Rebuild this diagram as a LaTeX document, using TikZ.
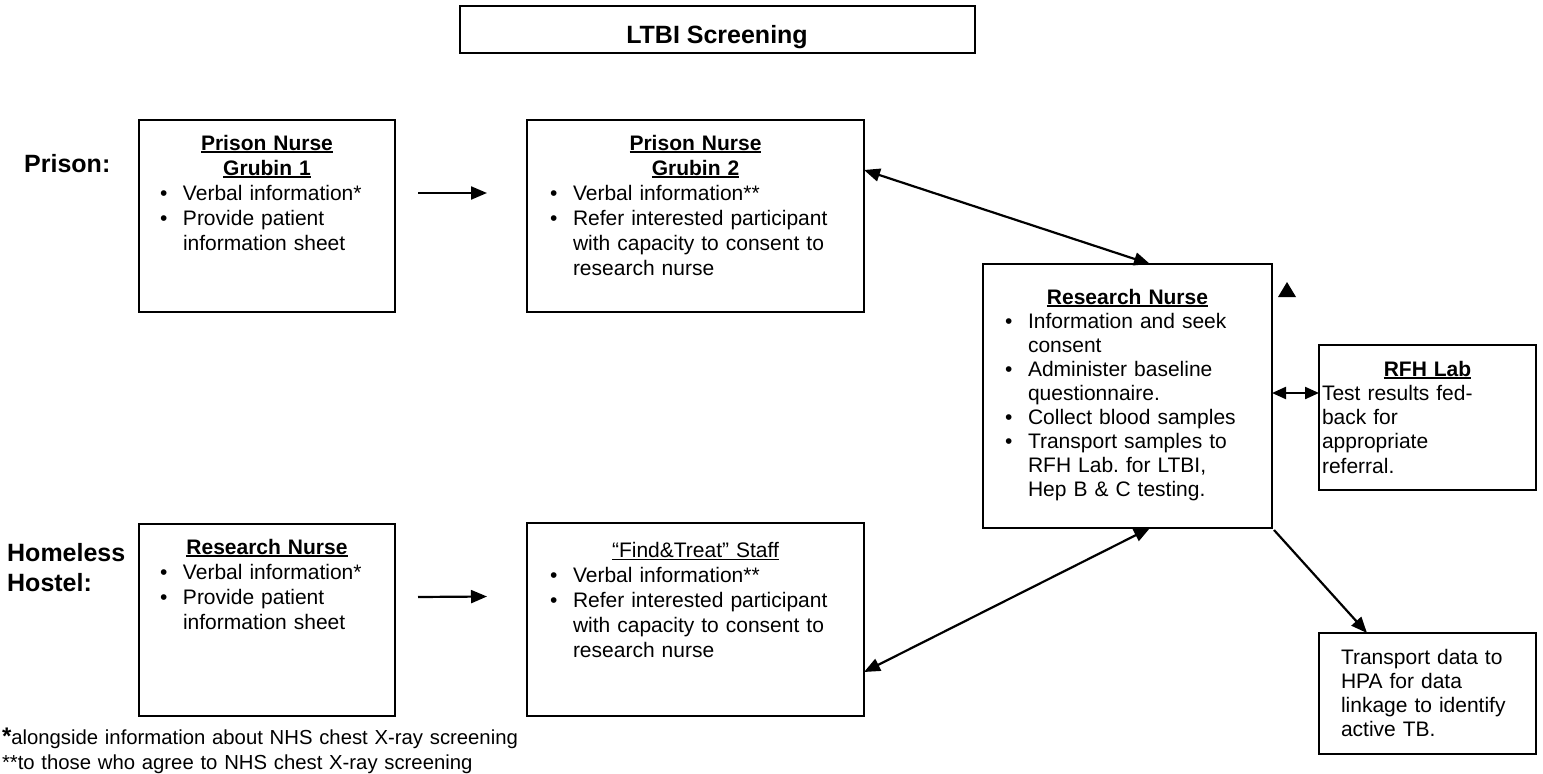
\documentclass[tikz,border=0pt]{standalone}
\usepackage{fontspec}
\setmainfont{Liberation Sans}
\usetikzlibrary{arrows.meta,calc}
\frenchspacing
\newcommand{\bodyfont}{\fontsize{21}{25}\selectfont\frenchspacing}
\newcommand{\labfont}{\fontsize{25}{30}\selectfont\bfseries}
\newcommand{\hl}[1]{\mbox{\setbox0\hbox{\textbf{#1}}\rlap{\rule[-3pt]{\wd0}{1.8pt}}\box0}}
\newcommand{\hlr}[1]{\mbox{\setbox0\hbox{#1}\rlap{\rule[-3pt]{\wd0}{1.5pt}}\box0}}
\newcommand{\hd}[1]{{\centering\noindent#1\par}}
\newcommand{\itm}[1]{\par{\leftskip=23pt\noindent\llap{\makebox[23pt][l]{•}}#1\par}}
\tikzset{
  box/.style={draw, line width=2pt, inner sep=0pt, outer sep=0pt, anchor=north west},
  txt/.style={inner sep=0pt, outer sep=0pt, anchor=north west, align=left, font=\bodyfont},
  arr/.style={line width=2.2pt, -{Triangle[length=16pt,width=13pt]}},
  darr/.style={line width=2.2pt, {Triangle[length=16pt,width=13pt]}-{Triangle[length=16pt,width=13pt]}},
  darrs/.style={line width=2.2pt, {Triangle[length=14pt,width=12pt]}-{Triangle[length=14pt,width=12pt]}},
}
\begin{document}
\begin{tikzpicture}[x=1pt,y=-1pt]
\useasboundingbox (0,0) rectangle (1543,774);
\fill[white] (0,0) rectangle (1543,774);
% title
\node[box, minimum width=515pt, minimum height=47pt] (title) at (460,6) {};
\node[font=\fontsize{25}{30}\selectfont\bfseries, inner sep=0pt, anchor=base] (titlet) at (717,43) {LTBI Screening};
% side labels
\node[font=\labfont, inner sep=0pt, anchor=base west] (lprison) at (24,172) {Prison:};
\node[font=\labfont, inner sep=0pt, anchor=north west, align=left, text width=150pt] (lhome) at (7,541) {\rule{0pt}{20pt}Homeless\\Hostel:};
% prison row
\node[box, minimum width=256pt, minimum height=192pt] (g1) at (139,120) {};
\node[txt, text width=214pt] (g1t) at (160,132) {\hd{\rule{0pt}{18pt}\hl{Prison Nurse}\\\hl{Grubin 1}}\itm{Verbal information*}\itm{Provide patient\newline information sheet}};
\node[box, minimum width=337pt, minimum height=192pt] (g2) at (527,120) {};
\node[txt, text width=291pt] (g2t) at (550,132) {\hd{\rule{0pt}{18pt}\hl{Prison Nurse}\\\hl{Grubin 2}}\itm{Verbal information**}\itm{Refer interested participant\newline with capacity to consent to\newline research nurse}};
% research nurse
\node[box, minimum width=289pt, minimum height=264pt] (rn) at (983,264) {};
\node[txt, text width=245pt, font=\fontsize{21}{24}\selectfont] (rnt) at (1005,286) {\hd{\rule{0pt}{18pt}\hl{Research Nurse}}\itm{Information and seek\newline consent}\itm{Administer baseline\newline questionnaire.}\itm{Collect blood samples}\itm{Transport samples to\newline RFH Lab. for LTBI,\newline Hep B \& C testing.}};
% RFH lab
\node[box, minimum width=217pt, minimum height=145pt] (rfh) at (1319,345) {};
\node[txt, text width=211pt, font=\fontsize{21}{24.3}\selectfont] (rfht) at (1322,358) {\hd{\rule{0pt}{18pt}\hl{RFH Lab}}\noindent Test results fed-\\back for\\appropriate\\referral.};
% HPA
\node[box, minimum width=217pt, minimum height=121pt] (hpa) at (1319,633) {};
\node[txt, text width=190pt, font=\fontsize{21}{24.3}\selectfont] (hpat) at (1341,646) {\rule{0pt}{18pt}Transport data to\\HPA for data\\linkage to identify\\active TB.};
% homeless row
\node[box, minimum width=256pt, minimum height=192pt] (hr) at (139,524) {};
\node[txt, text width=214pt] (hrt) at (160,536) {\hd{\rule{0pt}{18pt}\hl{Research Nurse}}\itm{Verbal information*}\itm{Provide patient\newline information sheet}};
\node[box, minimum width=337pt, minimum height=193pt] (ft) at (527,523) {};
\node[txt, text width=291pt] (ftt) at (550,539) {\hd{\rule{0pt}{18pt}\hlr{“Find\&Treat” Staff}}\itm{Verbal information**}\itm{Refer interested participant\newline with capacity to consent to\newline research nurse}};
% footnotes
\node[txt, text width=700pt, font=\fontsize{20.3}{25}\selectfont] (foot) at (2,726) {\rule{0pt}{18pt}{\fontsize{24}{25}\selectfont\textbf{*}}alongside information about NHS chest X-ray screening\\{}**to those who agree to NHS chest X-ray screening};
% connectors
\draw[arr] ([xshift=23pt,yshift=23pt]g1.east) -- ([xshift=-40pt,yshift=23pt]g2.west);
\draw[arr] ([xshift=23pt,yshift=23pt]hr.east) -- ([xshift=-40pt,yshift=23pt]ft.west);
\draw[darr] ([yshift=-50pt]g2.north east) -- ([xshift=167pt]rn.north west);
\draw[darr] ([xshift=167pt]rn.south west) -- ([yshift=44pt]ft.south east);
\draw[arr] ([shift={(2pt,-2pt)}]rn.south east) -- ([xshift=48pt]hpa.north west);
\coordinate (ra) at ([yshift=3pt]rn.east);
\draw[darrs] (ra) -- (ra -| rfh.west);
% stray arrowhead
\fill (1287,282) -- (1296,297) -- (1278,297) -- cycle;
\end{tikzpicture}
\end{document}
